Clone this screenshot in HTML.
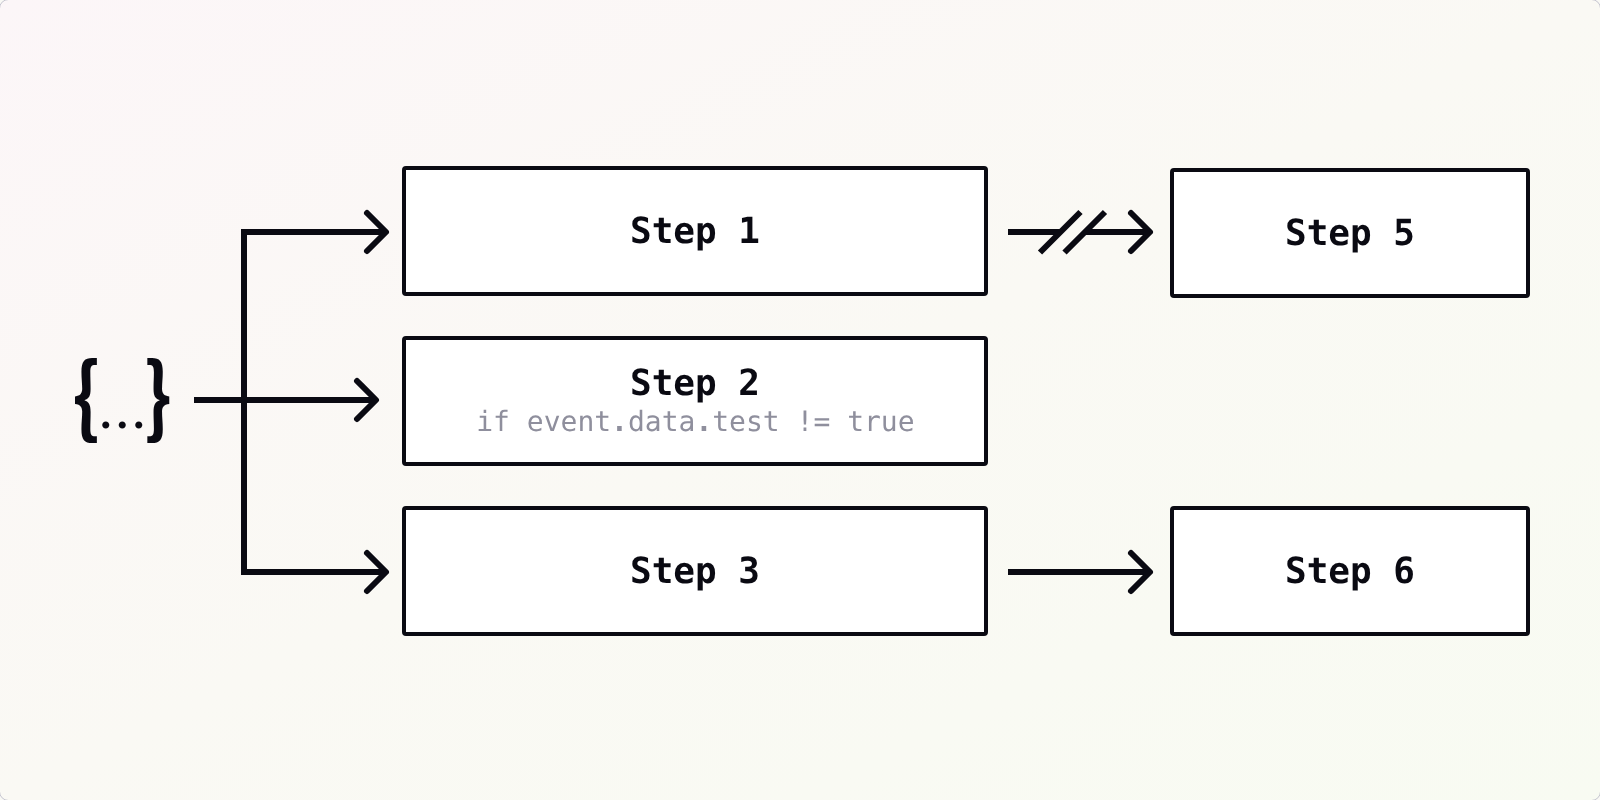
<!DOCTYPE html>
<html lang="en">
<head>
<meta charset="utf-8">
<title>Steps diagram</title>
<style>
  html, body { margin: 0; padding: 0; }
  body {
    width: 1600px; height: 800px; overflow: hidden;
    background: #f9f9f5;
    font-family: "DejaVu Sans Mono", "Liberation Mono", monospace;
  }
  .card {
    position: absolute; left: -1px; top: -1px;
    width: 1600px; height: 800px;
    border: 1px solid #c6c6d0;
    border-radius: 9.5px;
    background: linear-gradient(to bottom right, #fcf6f8 0%, #faf9f4 50%, #f8fbf2 100%);
  }
  .box {
    position: absolute; box-sizing: border-box;
    border: 4px solid #0a0a12; border-radius: 4px;
    background: #ffffff;
    height: 130px;
    color: #0a0a12;
    text-align: center;
  }
  .box .t {
    position: absolute; left: 0; right: 0;
    font-weight: bold; font-size: 36px; line-height: 42px;
    white-space: pre;
  }
  .box .s {
    position: absolute; left: 1.2px; right: 0;
    font-weight: normal; font-size: 28px; line-height: 32px;
    color: #8f8f9d; white-space: pre;
  }
  #b1 { left: 402px; top: 166px; width: 586px; }
  #b2 { left: 402px; top: 336px; width: 586px; }
  #b3 { left: 402px; top: 506px; width: 586px; }
  #b5 { left: 1170px; top: 168px; width: 360px; }
  #b6 { left: 1170px; top: 506px; width: 360px; }
  svg.lines { position: absolute; left: 0; top: 0; will-change: transform; }
  .box .t, .box .s { will-change: transform; text-rendering: geometricPrecision; }
</style>
</head>
<body>
<div class="card"></div>

<svg class="lines" width="1600" height="800" viewBox="0 0 1600 800">
  <g fill="none" stroke="#0a0a12" stroke-width="6">
    <!-- trunk + branches -->
    <path d="M386 232 H244 V572 H386" stroke-linejoin="miter"/>
    <path d="M194 400 H376"/>
    <!-- arrow heads (left group) -->
    <g stroke-linecap="round" stroke-linejoin="round">
      <path d="M367 213 L386 232 L367 251"/>
      <path d="M357 381 L376 400 L357 419"/>
      <path d="M367 553 L386 572 L367 591"/>
      <path d="M1131 213 L1150 232 L1131 251"/>
      <path d="M1131 553 L1150 572 L1131 591"/>
    </g>
    <!-- right arrows -->
    <path d="M1008 232 H1060 M1085 232 H1150"/>
    <path d="M1008 572 H1150"/>
    <!-- break marks -->
    <path d="M1040 252.5 L1080.5 212 M1064.5 252.5 L1105 212"/>
  </g>
  <!-- payload icon -->
  <g fill="#0a0a12">
    <text id="lb" transform="translate(75,428.1) scale(0.857,1)" x="-3.23" y="0" font-family="'Noto Sans CJK SC', 'DejaVu Sans', sans-serif" font-weight="bold" font-size="87.18">{</text>
    <text id="rb" transform="translate(147.25,428.1) scale(0.857,1)" x="-4.18" y="0" font-family="'Noto Sans CJK SC', 'DejaVu Sans', sans-serif" font-weight="bold" font-size="87.18">}</text>
    <text id="dots" x="98.3" y="428.4" font-family="'Liberation Serif', serif" font-size="60" letter-spacing="1.5">...</text>
  </g>
</svg>

<div class="box" id="b1"><div class="t" style="top:41px">Step 1</div></div>
<div class="box" id="b2"><div class="t" style="top:23px">Step 2</div><div class="s" style="top:66px">if event<b>.</b>data<b>.</b>test != true</div></div>
<div class="box" id="b3"><div class="t" style="top:41px">Step 3</div></div>
<div class="box" id="b5"><div class="t" style="top:41px">Step 5</div></div>
<div class="box" id="b6"><div class="t" style="top:41px">Step 6</div></div>
</body>
</html>
